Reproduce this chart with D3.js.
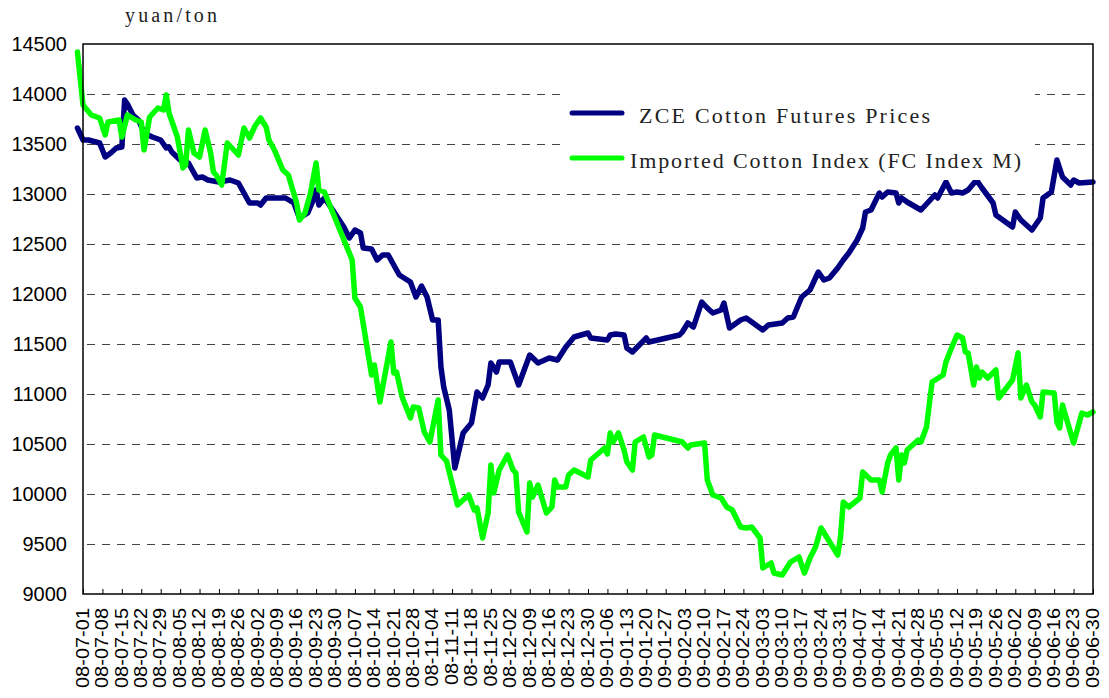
<!DOCTYPE html>
<html><head><meta charset="utf-8">
<script src="https://cdn.jsdelivr.net/npm/d3@7"></script>
<style>body{margin:0;background:#fff;} svg{display:block;}</style>
</head><body><svg id="c" width="1109" height="698"></svg>
<script>
const unitLabel = "yuan/ton";
const seriesNames = ["ZCE Cotton Futures Prices", "Imported Cotton Index (FC Index M)"];
const tickLabels = ["08-07-01","08-07-08","08-07-15","08-07-22","08-07-29","08-08-05","08-08-12","08-08-19","08-08-26",
"08-09-02","08-09-09","08-09-16","08-09-23","08-09-30","08-10-07","08-10-14","08-10-21","08-10-28","08-11-04","08-11-11",
"08-11-18","08-11-25","08-12-02","08-12-09","08-12-16","08-12-23","08-12-30","09-01-06","09-01-13","09-01-20","09-01-27",
"09-02-03","09-02-10","09-02-17","09-02-24","09-03-03","09-03-10","09-03-17","09-03-24","09-03-31","09-04-07","09-04-14",
"09-04-21","09-04-28","09-05-05","09-05-12","09-05-19","09-05-26","09-06-02","09-06-09","09-06-16","09-06-23","09-06-30"];
const yTicks = [9000,9500,10000,10500,11000,11500,12000,12500,13000,13500,14000,14500];

const zceDates = ["08-06-29","08-07-01","08-07-03","08-07-07","08-07-09","08-07-11","08-07-13","08-07-15","08-07-16","08-07-17",
"08-07-19","08-07-21","08-07-23","08-07-26","08-07-29","08-07-31","08-08-01","08-08-02","08-08-05","08-08-08","08-08-10",
"08-08-11","08-08-13","08-08-15","08-08-19","08-08-23","08-08-26","08-08-28","08-08-30","08-09-02","08-09-03","08-09-05",
"08-09-12","08-09-15","08-09-17","08-09-20","08-09-22","08-09-23","08-09-24","08-09-26","08-09-29","08-10-03","08-10-05",
"08-10-07","08-10-09","08-10-10","08-10-13","08-10-15","08-10-17","08-10-19","08-10-21","08-10-23","08-10-27","08-10-29",
"08-10-31","08-11-02","08-11-04","08-11-06","08-11-07","08-11-08","08-11-10","08-11-12","08-11-15","08-11-18","08-11-20",
"08-11-22","08-11-24","08-11-25","08-11-27","08-11-28","08-12-02","08-12-05","08-12-07","08-12-09","08-12-12","08-12-16",
"08-12-19","08-12-22","08-12-25","08-12-30","08-12-31","09-01-06","09-01-07","09-01-09","09-01-12","09-01-13","09-01-15",
"09-01-20","09-01-21","09-02-01","09-02-02","09-02-04","09-02-06","09-02-09","09-02-11","09-02-13","09-02-16","09-02-17",
"09-02-19","09-02-23","09-02-25","09-02-27","09-03-03","09-03-05","09-03-10","09-03-12","09-03-14","09-03-17","09-03-20",
"09-03-23","09-03-25","09-03-27","09-03-30","09-04-01","09-04-03","09-04-06","09-04-08","09-04-09","09-04-11","09-04-14",
"09-04-15","09-04-17","09-04-20","09-04-21","09-04-22","09-04-24","09-04-29","09-05-04","09-05-05","09-05-08","09-05-10",
"09-05-12","09-05-14","09-05-16","09-05-19","09-05-21","09-05-25","09-05-26","09-06-01","09-06-02","09-06-04","09-06-08",
"09-06-11","09-06-12","09-06-15","09-06-17","09-06-19","09-06-22","09-06-23","09-06-25","09-06-30"];
const zceValues = [13660,13540,13540,13510,13370,13410,13460,13470,13940,13900,
13790,13740,13610,13570,13540,13460,13470,13420,13340,13310,13210,
13160,13170,13140,13120,13140,13110,13010,12910,12910,12890,12960,
12960,12910,12760,12810,12940,13040,12890,12960,12840,12670,12560,
12640,12610,12460,12450,12340,12390,12390,12290,12190,12120,11970,
12080,11970,11740,11740,11270,11070,10840,10260,10610,10710,11020,
10960,11090,11310,11220,11320,11320,11090,11240,11390,11310,11360,
11340,11470,11570,11610,11560,11540,11590,11600,11590,11460,11420,
11560,11520,11590,11620,11710,11670,11920,11860,11810,11840,11910,
11660,11740,11760,11720,11640,11690,11710,11760,11770,11970,12040,
12220,12140,12160,12260,12340,12410,12540,12660,12820,12840,13010,
12970,13020,13010,12910,12960,12920,12840,12990,12960,13120,13010,
13020,13010,13040,13140,13060,12910,12790,12670,12820,12740,12640,
12760,12960,13020,13340,13170,13090,13140,13110,13120];

const fcDates = ["08-06-29","08-07-01","08-07-04","08-07-07","08-07-09","08-07-10","08-07-14","08-07-15","08-07-17","08-07-20",
"08-07-22","08-07-23","08-07-25","08-07-28","08-07-30","08-07-31","08-08-01","08-08-04","08-08-06","08-08-07","08-08-08",
"08-08-10","08-08-12","08-08-14","08-08-16","08-08-17","08-08-18","08-08-20","08-08-22","08-08-26","08-08-28","08-08-30",
"08-09-01","08-09-03","08-09-05","08-09-06","08-09-08","08-09-11","08-09-13","08-09-16","08-09-17","08-09-19","08-09-21",
"08-09-23","08-09-24","08-09-26","08-10-06","08-10-07","08-10-09","08-10-13","08-10-14","08-10-16","08-10-20","08-10-21",
"08-10-22","08-10-24","08-10-27","08-10-28","08-10-30","08-11-01","08-11-03","08-11-06","08-11-07","08-11-09","08-11-13",
"08-11-17","08-11-19","08-11-20","08-11-22","08-11-24","08-11-25","08-11-26","08-11-28","08-12-01","08-12-03","08-12-04",
"08-12-05","08-12-08","08-12-09","08-12-10","08-12-12","08-12-15","08-12-17","08-12-18","08-12-19","08-12-22","08-12-23",
"08-12-25","08-12-30","08-12-31","09-01-05","09-01-06","09-01-07","09-01-08","09-01-10","09-01-12","09-01-13","09-01-15",
"09-01-16","09-01-19","09-01-21","09-01-22","09-01-23","09-02-02","09-02-04","09-02-05","09-02-10","09-02-11","09-02-13",
"09-02-16","09-02-18","09-02-20","09-02-23","09-02-25","09-02-27","09-03-02","09-03-03","09-03-06","09-03-07","09-03-10",
"09-03-13","09-03-16","09-03-18","09-03-20","09-03-22","09-03-24","09-03-26","09-03-30","09-03-31","09-04-01","09-04-03",
"09-04-07","09-04-08","09-04-11","09-04-14","09-04-15","09-04-17","09-04-18","09-04-20","09-04-21","09-04-22","09-04-23",
"09-04-24","09-04-28","09-04-29","09-05-01","09-05-03","09-05-07","09-05-08","09-05-10","09-05-12","09-05-14","09-05-15",
"09-05-16","09-05-18","09-05-19","09-05-20","09-05-21","09-05-23","09-05-26","09-05-27","09-06-01","09-06-03","09-06-04",
"09-06-06","09-06-08","09-06-09","09-06-11","09-06-12","09-06-16","09-06-17","09-06-18","09-06-19","09-06-23","09-06-26",
"09-06-28","09-06-30"];
const fcValues = [14420,13890,13790,13760,13590,13720,13740,13570,13790,13740,
13720,13440,13770,13860,13840,13990,13810,13570,13260,13290,13640,
13410,13370,13640,13410,13220,13190,13090,13510,13390,13660,13560,
13680,13760,13670,13540,13440,13240,13190,12910,12740,12810,13010,
13310,13040,13020,12340,11960,11870,11190,11290,10920,11520,11210,
11220,10970,10760,10870,10860,10620,10520,10940,10390,10330,9890,
9990,9840,9860,9560,9810,10290,10010,10240,10390,10240,10210,
9820,9620,10110,9970,10090,9810,9870,10140,10070,10070,10190,
10240,10170,10340,10460,10400,10610,10520,10610,10440,10320,10240,
10520,10570,10370,10390,10590,10520,10460,10490,10510,10140,9990,
9960,9870,9840,9670,9660,9670,9560,9260,9310,9210,9190,
9320,9370,9210,9360,9470,9660,9570,9390,9570,9920,9870,
9960,10220,10140,10140,10020,10310,10390,10460,10140,10390,10310,
10440,10540,10520,10670,11120,11190,11320,11460,11590,11560,11420,
11410,11090,11270,11160,11220,11160,11240,10960,11140,11410,10960,
11090,10920,10890,10770,11020,11010,10720,10660,10890,10510,10810,
10790,10820];

const parse = d3.timeParse("%y-%m-%d");
const svg = d3.select("#c");
const L = 83, R = 1093, T = 44, B = 594;
const x = d3.scaleTime().domain([parse(tickLabels[0]), parse(tickLabels[tickLabels.length - 1])]).range([L, R]);
const y = d3.scaleLinear().domain([yTicks[0], yTicks[yTicks.length - 1]]).range([B, T]);

// gridlines
svg.append("g").selectAll("line").data(yTicks.slice(1, -1)).join("line")
  .attr("x1", L).attr("x2", R)
  .attr("y1", d => Math.round(y(d)) + 0.5).attr("y2", d => Math.round(y(d)) + 0.5)
  .attr("stroke", "#444").attr("stroke-width", 1).attr("stroke-dasharray", "8,7")
  .attr("stroke-dashoffset", -4);

// y axis labels
const yAxis = d3.axisLeft(y).tickValues(yTicks).tickSize(0).tickPadding(16).tickFormat(d3.format("d"));
const gy = svg.append("g").attr("transform", `translate(${L},0)`).call(yAxis);
gy.select(".domain").remove();
gy.selectAll("text").attr("font-family", "'Liberation Sans', Arial, sans-serif").attr("font-size", 20).attr("fill", "#000");

// x axis
const xAxis = d3.axisBottom(x).tickValues(tickLabels.map(parse)).tickSizeInner(-5).tickSizeOuter(0)
  .tickFormat(d3.timeFormat("%y-%m-%d"));
const gx = svg.append("g").attr("transform", `translate(0,${B})`).call(xAxis);
gx.select(".domain").remove();
gx.selectAll(".tick line").attr("stroke", "#000").attr("stroke-width", 1);
gx.selectAll("text")
  .attr("font-family", "'Liberation Sans', Arial, sans-serif").attr("font-size", 20).attr("fill", "#000")
  .attr("text-anchor", "end").attr("transform", "rotate(-90) scale(1,0.88)")
  .attr("x", -14).attr("y", -1).attr("dy", "0.35em");

// series
const line = d3.line().x(d => x(d[0])).y(d => y(d[1]));
const zce = zceDates.map((d, i) => [parse(d), zceValues[i]]);
const fc = fcDates.map((d, i) => [parse(d), fcValues[i]]);
svg.append("path").datum(zce).attr("d", line).attr("fill", "none").attr("stroke", "#000080")
  .attr("stroke-width", 5.5).attr("stroke-linejoin", "round").attr("stroke-linecap", "round");
svg.append("path").datum(fc).attr("d", line).attr("fill", "none").attr("stroke", "#00FF00")
  .attr("stroke-width", 5.5).attr("stroke-linejoin", "round").attr("stroke-linecap", "round");

// frame
svg.append("rect").attr("x", L).attr("y", T).attr("width", R - L).attr("height", B - T)
  .attr("fill", "none").attr("stroke", "#000").attr("stroke-width", 1.5);

// unit label
svg.append("text").attr("x", 125).attr("y", 22).text(unitLabel)
  .attr("font-family", "'Liberation Serif', serif").attr("font-size", 20).attr("fill", "#222")
  .attr("textLength", 92).attr("lengthAdjust", "spacing");

// legend
const lg = svg.append("g");
lg.append("rect").attr("x", 563).attr("y", 84).attr("width", 472).attr("height", 96).attr("fill", "#fff");
const legendItems = [
  {name: seriesNames[0], color: "#000080", ly: 113, tx: 639, ty: 123, tl: 291},
  {name: seriesNames[1], color: "#00FF00", ly: 158, tx: 630, ty: 168, tl: 391}
];
legendItems.forEach(it => {
  lg.append("line").attr("x1", 572).attr("x2", 622).attr("y1", it.ly).attr("y2", it.ly)
    .attr("stroke", it.color).attr("stroke-width", 5).attr("stroke-linecap", "round");
  lg.append("text").attr("x", it.tx).attr("y", it.ty).text(it.name)
    .attr("font-family", "'Liberation Serif', serif").attr("font-size", 22).attr("fill", "#222")
    .attr("textLength", it.tl).attr("lengthAdjust", "spacing");
});
</script></body></html>
